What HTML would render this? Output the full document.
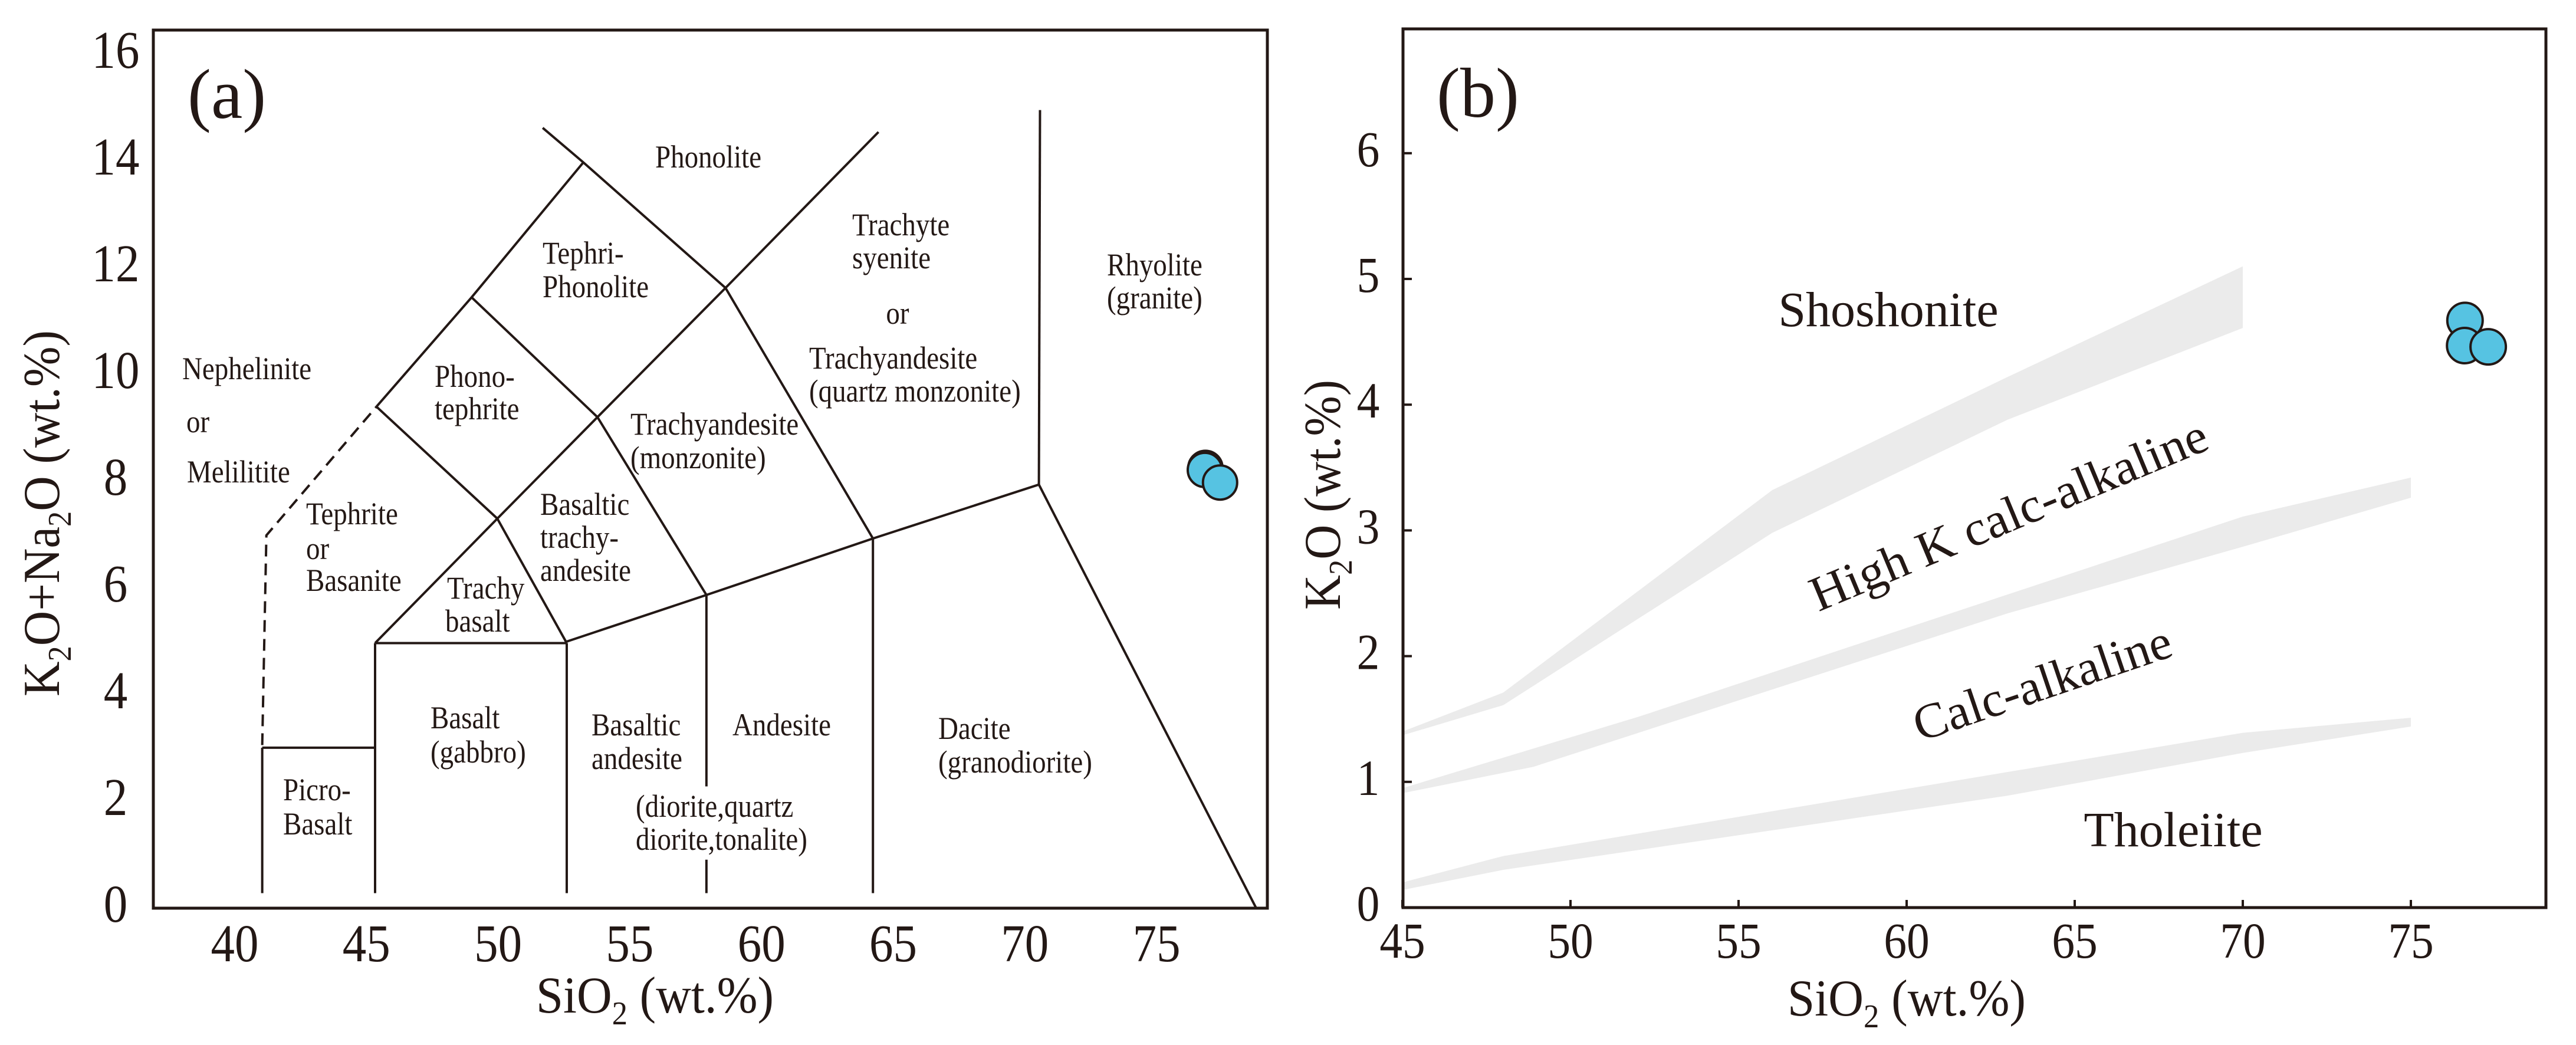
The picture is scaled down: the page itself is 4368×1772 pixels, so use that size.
<!DOCTYPE html>
<html><head><meta charset="utf-8"><style>
html,body{margin:0;padding:0;background:#fff;}
svg{display:block;}
text{font-family:"Liberation Serif","Times New Roman",serif;fill:#231815;}
</style></head>
<body>
<svg id="fig" width="4368" height="1772" viewBox="0 0 4368 1772" xmlns="http://www.w3.org/2000/svg">
<rect x="0" y="0" width="4368" height="1772" fill="#fff"/>
<g id="pa"></g>
<g id="pb"></g>
</svg>
<script>
// ===== Panel (a) TAS data =====
const aXTicks = [40,45,50,55,60,65,70,75];
const aYTicks = [0,2,4,6,8,10,12,14,16];
const aLines = [
 [[40.92,0.22],[40.92,3.0]],
 [[40.92,3.0],[45,3.0]],
 [[45,0.22],[45,5]],
 [[45,5],[51.93,5]],
 [[51.93,0.22],[51.93,5]],
 [[45,5],[49.42,7.38],[51.93,5]],
 [[51.93,5.03],[56.98,5.92],[63,7],[69,8.03],[76.85,-0.06]],
 [[45.05,9.52],[49.42,7.38]],
 [[49.42,7.38],[53.04,9.32],[57.67,11.79],[63.2,14.77]],
 [[45.05,9.52],[48.49,11.61],[52.53,14.19]],
 [[48.49,11.61],[53.04,9.32]],
 [[51.06,14.85],[52.53,14.19],[57.67,11.79]],
 [[53.04,9.32],[56.98,5.92]],
 [[57.67,11.79],[63,7]],
 [[56.98,5.92],[56.98,2.26]],
 [[56.98,0.86],[56.98,0.22]],
 [[63,7],[63,0.22]],
 [[69.04,15.19],[69,8.03]]
];
const aDashed = [[40.92,3.05],[41.07,7.06],[45.05,9.52]];
const aSampleX = [75.02,75.00,75.55];
const aSampleY = [8.35,8.31,8.07];
const aLabels = [
 ["Phonolite",1201,266,"middle"],
 ["Tephri-",920,429,"start"],["Phonolite",920,486,"start"],
 ["Trachyte",1445,381,"start"],["syenite",1445,437,"start"],["or",1522,531,"middle"],
 ["Trachyandesite",1372,607,"start"],["(quartz monzonite)",1372,663,"start"],
 ["Rhyolite",1877,449,"start"],["(granite)",1877,505,"start"],
 ["Nephelinite",309,625,"start"],["or",316,715,"start"],["Melilitite",317,800,"start"],
 ["Phono-",737,638,"start"],["tephrite",737,693,"start"],
 ["Trachyandesite",1069,719,"start"],["(monzonite)",1069,776,"start"],
 ["Tephrite",519,871,"start"],["or",519,930,"start"],["Basanite",519,984,"start"],
 ["Basaltic",916,855,"start"],["trachy-",916,911,"start"],["andesite",916,967,"start"],
 ["Trachy",758,997,"start"],["basalt",755,1053,"start"],
 ["Basalt",730,1217,"start"],["(gabbro)",730,1275,"start"],
 ["Basaltic",1003,1229,"start"],["andesite",1003,1286,"start"],
 ["Andesite",1242,1229,"start"],
 ["(diorite,quartz",1078,1367,"start"],["diorite,tonalite)",1078,1423,"start"],
 ["Dacite",1591,1235,"start"],["(granodiorite)",1591,1292,"start"],
 ["Picro-",480,1339,"start"],["Basalt",480,1397,"start"]
];
// ===== Panel (b) data =====
const bXTicks = [45,50,55,60,65,70,75];
const bYTicks = [0,1,2,3,4,5,6];
const bBand1 = [[45,1.40],[48,1.71],[56,3.32],[63,4.22],[70,5.10],[70,4.61],[63,3.88],[56,2.98],[48,1.61],[45,1.37]];
const bBand2 = [[45,0.95],[52.05,1.52],[70,3.11],[75,3.42],[75,3.26],[70,2.87],[63,2.34],[48.9,1.12],[45,0.91]];
const bBand3 = [[45,0.20],[48,0.41],[70,1.39],[75,1.51],[75,1.44],[70,1.23],[63,0.89],[48,0.30],[45,0.14]];
const bSampleX = [76.61,76.60,77.30];
const bSampleY = [4.67,4.47,4.46];

const NS="http://www.w3.org/2000/svg";
function mk(parent,tag,attrs,txt){const e=document.createElementNS(NS,tag);for(const k in attrs)e.setAttribute(k,attrs[k]);if(txt!==undefined)e.textContent=txt;parent.appendChild(e);return e;}

// ---- Panel a ----
const pa=document.getElementById('pa');
const aX=v=>636+(v-45)*46.9, aY=v=>1534-v*88.7;
const aTX=v=>398+(v-40)*44.66, aTY=v=>1533-v*90.5;
for(const l of aLines){
  const p=mk(pa,'polyline',{points:l.map(q=>aX(q[0])+','+aY(q[1])).join(' '),fill:'none',stroke:'#231815','stroke-width':4,'stroke-linejoin':'miter'});
  
  
}
const dl=mk(pa,'polyline',{points:aDashed.map(q=>aX(q[0])+','+aY(q[1])).join(' '),fill:'none',stroke:'#231815','stroke-width':4,'stroke-dasharray':'20 12'});


const fa=mk(pa,'rect',{x:260,y:51,width:1889,height:1489,fill:'none',stroke:'#231815','stroke-width':5});


for(const L of aLabels){
  const g=mk(pa,'g',{transform:`translate(${L[1]},${L[2]+18}) scale(0.87,1)`});
  const t=mk(g,'text',{x:0,y:0,'font-size':54,'text-anchor':L[3]},L[0]);
  
  
}
for(const v of aXTicks){
  const g=mk(pa,'g',{transform:`translate(${aTX(v)},${1630}) scale(0.9,1)`});
  const t=mk(g,'text',{x:0,y:0,'font-size':90,'text-anchor':'middle'},String(v));
  
  
}
for(const v of aYTicks){
  const g=mk(pa,'g',{transform:`translate(196,${aTY(v)+30}) scale(0.9,1)`});
  const t=mk(g,'text',{x:0,y:0,'font-size':90,'text-anchor':'middle'},String(v));
  
  
}
for(let i=0;i<aSampleX.length;i++){
  const c=mk(pa,'circle',{cx:aX(aSampleX[i]),cy:aY(aSampleY[i]),r:29,fill:'#56c3e2',stroke:'#231815','stroke-width':4});
  
  
}

// ---- Panel b ----
const pb=document.getElementById('pb');
const bX=v=>2378+(v-45)*57.0, bY=v=>1539-v*213.2;
for(const band of [bBand1,bBand2,bBand3]){
  const p=mk(pb,'polygon',{points:band.map(q=>bX(q[0])+','+bY(q[1])).join(' '),fill:'#ebebeb',stroke:'none'});
  
  
}
const fb=mk(pb,'rect',{x:2379,y:49,width:1938,height:1490,fill:'none',stroke:'#231815','stroke-width':5});


for(const v of bXTicks){
  const tk=mk(pb,'line',{x1:bX(v),x2:bX(v),y1:1539,y2:1526,stroke:'#231815','stroke-width':4});
  
  
  const g=mk(pb,'g',{transform:`translate(${bX(v)},1624) scale(0.9,1)`});
  const t=mk(g,'text',{x:0,y:0,'font-size':86,'text-anchor':'middle'},String(v));
  
  
}
for(const v of bYTicks){
  const tk=mk(pb,'line',{x1:2379,x2:2394,y1:bY(v),y2:bY(v),stroke:'#231815','stroke-width':4});
  
  
  const g=mk(pb,'g',{transform:`translate(2320,${bY(v)+22}) scale(0.9,1)`});
  const t=mk(g,'text',{x:0,y:0,'font-size':86,'text-anchor':'middle'},String(v));
  
  
}
for(let i=0;i<bSampleX.length;i++){
  const c=mk(pb,'circle',{cx:bX(bSampleX[i]),cy:bY(bSampleY[i]),r:30,fill:'#56c3e2',stroke:'#231815','stroke-width':4});
  
  
}
</script>
<svg style="position:absolute;left:0;top:0" width="4368" height="1772" viewBox="0 0 4368 1772" xmlns="http://www.w3.org/2000/svg">
<text x="318" y="200" font-size="120">(a)</text>
<text x="909" y="1717" font-size="88" textLength="403" lengthAdjust="spacingAndGlyphs">SiO<tspan font-size="56" dy="20">2</tspan><tspan dy="-20"> (wt.%)</tspan></text>
<text transform="translate(100,1181) rotate(-90)" x="0" y="0" font-size="88" textLength="621" lengthAdjust="spacingAndGlyphs">K<tspan font-size="56" dy="20">2</tspan><tspan dy="-20">O+Na</tspan><tspan font-size="56" dy="20">2</tspan><tspan dy="-20">O (wt.%)</tspan></text>
<text x="2436" y="198" font-size="120">(b)</text>
<text x="3031" y="1722" font-size="88" textLength="404" lengthAdjust="spacingAndGlyphs">SiO<tspan font-size="56" dy="20">2</tspan><tspan dy="-20"> (wt.%)</tspan></text>
<text transform="translate(2272,1034) rotate(-90)" x="0" y="0" font-size="88" textLength="390" lengthAdjust="spacingAndGlyphs">K<tspan font-size="56" dy="20">2</tspan><tspan dy="-20">O (wt.%)</tspan></text>
<text x="3202" y="553" font-size="84" text-anchor="middle">Shoshonite</text>
<text transform="translate(3406,873) rotate(-22.6)" x="0" y="28" font-size="84" text-anchor="middle" textLength="722" lengthAdjust="spacingAndGlyphs">High K calc-alkaline</text>
<text transform="translate(3463,1158) rotate(-18.7)" x="0" y="28" font-size="84" text-anchor="middle" textLength="457" lengthAdjust="spacingAndGlyphs">Calc-alkaline</text>
<text x="3685" y="1435" font-size="84" text-anchor="middle">Tholeiite</text>
</svg>
</body></html>
